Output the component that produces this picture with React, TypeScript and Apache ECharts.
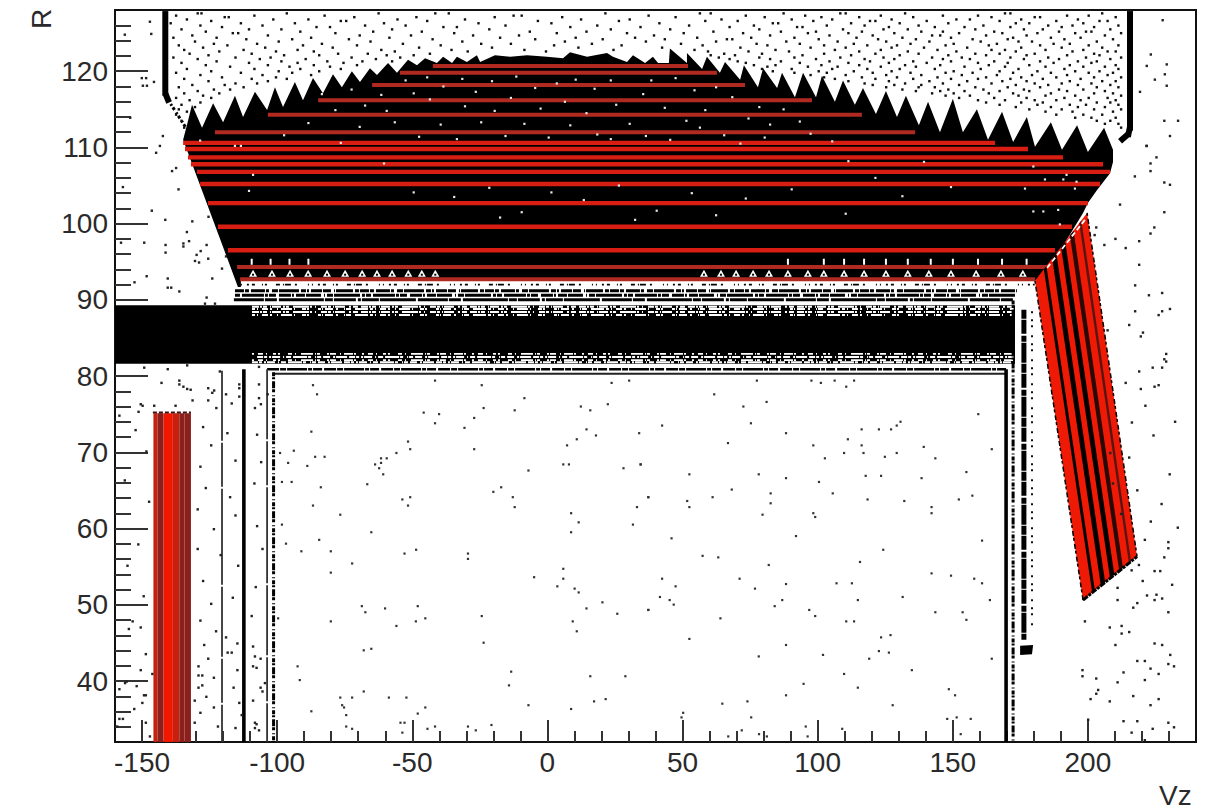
import React, { useEffect, useRef } from "react";
import * as echarts from "echarts";

type P = number[];

const xMajorTicks = [-150, -100, -50, 0, 50, 100, 150, 200];
const xMinorTicks = [-140, -130, -120, -110, -90, -80, -70, -60, -40, -30, -20, -10, 10, 20, 30, 40, 60, 70, 80, 90, 110, 120, 130, 140, 160, 170, 180, 190, 210, 220, 230];
const yMajorTicks = [40, 50, 60, 70, 80, 90, 100, 110, 120];
const yMinorTicks = [34, 36, 38, 42, 44, 46, 48, 52, 54, 56, 58, 62, 64, 66, 68, 72, 74, 76, 78, 82, 84, 86, 88, 92, 94, 96, 98, 102, 104, 106, 108, 112, 114, 116, 118, 122, 124, 126];

// This maps them on to the exact frame.
const cal = (p: P): P => [-160 + ((p[0] + 159.63) * 400) / 400.37, 32 + ((p[1] - 32.07) * 96) / 96.07];

const domeOutline: P[] = [
  [-114.1, 91.8], [-134.4, 111.1], [-133, 113], [-131.1, 115.7], [-127.4, 112.7], [-123.3, 115.9], [-119.6, 113.4], [-115.2, 116.9], [-112.2, 114.1], [-107.8, 117.4], [-103.3, 115], [-100.4, 118], [-97.4, 115.4], [-93, 118.7], [-90, 116.3], [-86.3, 119.2], [-82.6, 117.2], [-78.9, 119.7], [-75.6, 118], [-71.9, 120.1], [-68.9, 118.7], [-65.2, 120.5], [-62.6, 119.6], [-58.5, 121.2], [-55.2, 119.9], [-51.1, 121.6], [-47.8, 120.9], [-44.8, 121.8], [-40.4, 121.2], [-38.1, 122], [-34.8, 121.2], [-33, 122], [-29.3, 121.3], [-25.6, 122.2], [-24.4, 121.3], [-18.9, 122.2], [-13.3, 122], [-7, 122.2], [0.4, 122], [6.3, 121.8], [8.9, 122.6], [15.2, 122], [22.6, 122.5], [24.8, 122], [30, 121.3], [32.2, 122.2], [36.7, 121.2], [39.6, 122], [41.5, 121.2], [45.5, 121.2], [45.9, 123.1], [52.2, 121.2], [52.2, 122.5], [57.8, 120.4], [59.6, 122], [64.4, 119.9], [66.3, 121.3], [71.9, 119], [73.3, 120.9], [78.5, 118], [80.4, 120.5], [85.6, 117.9], [87.4, 119.9], [92.2, 116.7], [95.2, 119.9], [100, 116.7], [102.2, 119.5], [107, 116.1], [110, 118.9], [114.4, 115.7], [117.4, 117.9], [122.2, 114.5], [125.9, 117.5], [130, 114.1], [133.3, 116.9], [138.1, 113], [141.5, 116.1], [145.9, 112.1], [150.7, 116.5], [154.4, 112.1], [159.6, 115.1], [163.7, 111.1], [168.9, 114.8], [173, 110.8], [178.1, 114.1], [181.1, 110.2], [187, 113.4], [191.1, 109.8], [196.7, 113], [200.7, 109.5], [206.7, 112.7], [210, 109.8], [210, 108.2], [208.9, 106.7], [204.1, 104.5], [200.7, 102.8], [198.9, 101.5], [186.7, 94.4], [184.8, 93.4], [181.9, 92.7], [180.4, 92.6],
];
const bandOutline: P[] = [[-160, 89.4], [173.7, 89.4], [173.7, 81.7], [-160, 81.7]];
const blobOutline: P[] = [[175.6, 44.7], [180.4, 44.8], [180, 43.6], [175.6, 43.5]];
const quadOutline: P[] = [[181.1, 92.6], [200.4, 101.5], [218.9, 56.4], [198.9, 50.7]];

// [y, xStart, xEnd]
const mutedRedRows: P[] = [[120.8, -41.9, 52.6], [119.9, -54.1, 63.3], [118.3, -64.4, 73.7], [116.3, -84.4, 98.5], [114.4, -103, 117], [112.1, -122.6, 136.7], [94.4, -114.4, 185.6], [92.8, -113.3, 181.1]];
const brightRedRows: P[] = [[110.7, -134.4, 166.3], [109.9, -133.7, 178.5], [108.8, -132.6, 191.5], [107.9, -131.5, 206.3], [106.9, -129.3, 208.9], [105.3, -128.1, 205.2], [102.8, -125.2, 200.7], [99.7, -121.5, 194.8], [96.6, -117.8, 188.5]];

// red vertical block: [xStart, xEnd]
const blockTop = 75.2;
const blockRed: P[] = [[-145.4, -143.9], [-138.2, -135.8]];
const blockBright: P[] = [[-141.7, -138.2]];
const blockDark: P[] = [[-143.9, -141.7], [-135.8, -133.9], [-133.9, -131.5]];

// fractions across the slanted block
const quadBlackStrips: P[] = [[0.17, 0.22], [0.33, 0.41], [0.5, 0.58]];
const quadDarkStrips: P[] = [[0.67, 0.74]];
const quadMaroonStrips: P[] = [[0.85, 0.89]];

const whiteGapRow: P[] = [[92.1, -113, 181]];
const blackNoiseA: P[] = [[91.3, -115.2, 174.4]];
const blackNoiseB: P[] = [[90.7, -115.2, 174.4]];
const blackNoiseC: P[] = [[90.1, -115.6, 173]];
const whiteTopRowsA: P[] = [[88.9, -108.9, 173.2], [88.1, -108.9, 173.2]];
const whiteTopRowsB: P[] = [[88.5, -108.9, 173.2], [89.2, -108.9, 173.7]];
const whiteBottomRowsA: P[] = [[83, -108.9, 173.2], [82.2, -108.9, 173.2]];
const whiteBottomRowsB: P[] = [[82.6, -107, 173.2], [81.9, -108.9, 173.2]];
const innerDashedRows: P[] = [[81, -103.3, 171]];
const innerSolidRows: P[] = [[80.4, -100.9, 170]];

// [x, yTop, yBottom]
const thickColumns: P[] = [[-111.9, 81, 32], [170.4, 81, 32]];
const thinColumns: P[] = [[-120, 80.8, 32], [-103.3, 81, 32]];
const dottedColumns: P[] = [[-100.9, 80.6, 32], [173, 90, 32]];
const heavyDotColumns: P[] = [[177, 88.8, 45.5]];
const sparseColumns: P[] = [[180, 88.6, 47.4]];
const topLeftColumn: P[] = [[-141, 128, 116.9]];
const topRightColumn: P[] = [[216.3, 128, 112.3]];
const columnRoughness: P[] = [[-141, 128, 117.4], [216.3, 128, 112.6]];
const slantSegments: P[] = [[-141, 116.9, -133, 112.5]];
const cornerSegments: P[] = [[-141, 117.2, -139.6, 116], [216.3, 112.8, 215.5, 111.5], [215.8, 111.9, 212.6, 110.9]];
const quadSeamSegments: P[] = [[185.6, 94.3, 199.6, 100.6]];
const quadEdgeSegments: P[] = [[198.9, 50.7, 218.9, 56.4]];
const quadSideSegments: P[] = [[200.4, 101.5, 218.9, 56.4], [181.1, 92.6, 198.9, 50.7]];
const blockTopRows: P[] = [[75.3, -145.6, -131.5]];

const glyphRowLower = [-108.5, -101.5, -94.8, -88.1, -81.1, -74.4, -68.1, -62.6, -57, -51, -46, -41, 58.5, 64.8, 70.4, 76.7, 82.6, 89.6, 97, 102.9, 110.4, 117.8, 125.9, 134, 141.8, 150, 159.3, 168.5, 176.6];
const glyphRowUpper = [-109, -102, -95, -88, 89.6, 102.9, 110.4, 117.8, 125.9, 134, 142.5, 150.7, 160, 168.9, 178];

const sparseCentreLeft: P[] = [[-41.1, 79.5], [-23.8, 78.9], [-86.3, 78.9], [-84.8, 77.7], [-8, 77.2], [24.3, 79.2], [30.8, 79.5], [-23.1, 75.9], [-45.3, 75.3], [-39.6, 75.1], [-11.6, 75.6], [12.9, 76.1], [16.4, 75.6], [22.9, 76.4], [-26.6, 74.6], [-41.1, 73.9], [-30.2, 73.3], [-86.9, 72.8], [15, 73.1], [18.5, 72.3], [11.4, 71.8], [34.5, 72.6], [-51.1, 71.5], [7.8, 71], [-50.3, 70.5], [-26.6, 70.5], [-98.5, 70], [-93.4, 70.3], [-55.4, 70], [-85.5, 69.5], [-82, 69.5], [-61.1, 69.3], [-59, 69.3], [-95.5, 68.7], [-61.1, 68.7], [-63.3, 68.5], [-88.4, 68.3], [6.4, 68.5], [8.5, 68.5], [35.1, 68.5], [-61.8, 68], [28.7, 68], [-6.5, 67.7], [-60.3, 67.2], [-97.8, 66.2], [-94.2, 66.2], [-66.2, 65.9], [-83.4, 65.5], [-16.6, 65.5], [-19.5, 64.9], [-12.3, 64.2], [-50.3, 64.2], [-53.2, 63.9], [37.9, 64.2], [-86.3, 63.1], [-51.1, 63.1], [-11.6, 62.9], [33.7, 62.9], [9.3, 62.1], [-76.2, 61.9], [12.1, 60.9], [-97.8, 60.6], [32.2, 60.6], [-64.7, 59.6], [9.3, 59.6], [-84, 58.6], [-96.3, 58.1], [-48.1, 57.3], [-90.6, 57.1], [-79.7, 57.1], [-52.4, 56.8], [-28.9, 56.8], [-28.9, 56.1], [-71.8, 55.5], [6.4, 54.8], [-79.7, 54.3], [-4.4, 53.7], [6.4, 53.5], [4.2, 52.5], [10.6, 52.2], [12.1, 51.7], [20.9, 50.4], [-68.2, 49.9], [-47.5, 49.9], [-59.6, 49.6], [15, 49.6], [-66.9, 49.1], [26.4, 48.9], [37.9, 49.4], [-23.8, 48.6], [-44.7, 48.3], [-99.2, 48.3], [-48.2, 47.9], [-79.7, 47.9], [9.9, 47.9], [-55.4, 47.3], [11.4, 46.6], [-23.1, 45.1], [-64.7, 44.3], [-67.5, 44.1], [-92, 42], [-12.9, 41.3], [16.4, 40.7], [29.4, 40.7], [-91.2, 40.2], [-13.7, 39.5], [-67.5, 38.7], [-76.2, 37.9], [-71.8, 37.9], [-58.2, 37.9], [-51.7, 37.9], [22.1, 37.7], [17.8, 37.4], [-75.5, 36.9], [-74.8, 36.6], [-6.5, 36.9], [-44.7, 36.6], [-86.9, 36.1], [9.3, 36.4], [-47.5, 35.8], [-74, 35.6], [-53.9, 34.6], [-52.4, 34.6], [-20.2, 34.3], [-74, 34.1], [-41.1, 34.1], [-28.9, 34.1], [-71.8, 33.8], [-43.9, 33.8], [-26, 33.6], [-53.2, 33.3]];

const sparseCentreRight: P[] = [[78.1, 79.5], [98.3, 79.5], [101.8, 79.2], [106.9, 79.5], [114.1, 79.5], [111.2, 78.7], [62.3, 77.7], [81.7, 76.7], [73.1, 76.1], [160.1, 75.1], [43, 73.6], [75.9, 73.9], [131.3, 74.1], [129.9, 73.6], [116.9, 73.1], [123.3, 73.1], [127.8, 73.1], [88.9, 72.6], [111.8, 71.8], [67.4, 71.3], [99, 71], [116.9, 71], [139.9, 70.8], [165.1, 70.5], [110.4, 70], [117.6, 70], [129.9, 70], [125.5, 69.5], [103.3, 69.3], [144.2, 69.3], [35, 68.5], [155.7, 67.5], [53.1, 67.2], [78.8, 67.2], [118.4, 67], [124.1, 67], [88.9, 66.7], [139.1, 66.7], [101.1, 66.2], [68.8, 65.2], [83.2, 64.7], [106.2, 64.7], [157.9, 64.4], [37.9, 64.2], [61.7, 64.2], [119.1, 63.9], [152.9, 63.9], [52.3, 63.7], [132.7, 63.7], [83.2, 63.4], [53.1, 62.9], [142.8, 62.9], [142.8, 62.1], [99, 62.1], [80.2, 61.9], [99.7, 61.6], [92.6, 59.1], [46.5, 58.8], [161.5, 58.5], [124.9, 57.3], [58, 56.5], [63.8, 56.3], [116.3, 55.7], [82.5, 55.3], [142.8, 54.2], [150, 53.9], [43, 53.5], [71.7, 53.5], [158.6, 53.5], [107.6, 52.9], [113.3, 52.9], [88.9, 52.8], [161.5, 52.9], [48, 52.5], [77.4, 52.2], [42.2, 51.1], [132.1, 51.1], [45.8, 50.7], [87.5, 50.7], [115.5, 50.7], [164.4, 50.7], [47.3, 50.1], [84.7, 49.9], [37.9, 49.4], [97.5, 49.4], [144.2, 49.1], [154.3, 49.1], [99.7, 48.6], [64.6, 48.3], [155.7, 48.1], [111.2, 47.9], [114.1, 47.9], [127.6, 46.1], [124.1, 45.8], [53.1, 45.6], [88.9, 44.8], [123.3, 44], [127, 43.8], [102.6, 43.5], [78.8, 43.3], [119.7, 43], [165.1, 43], [135.5, 41.5], [110.4, 41], [95.4, 39.7], [115.5, 39.2], [149.2, 39], [88.9, 38.2], [151.5, 38.2], [74.6, 37.4], [65.3, 37.1], [128.4, 36.9], [50.8, 35.9], [50.2, 35.3], [76, 35.3], [152.1, 35.3], [148.6, 35.1], [157.3, 35.1], [96.2, 34.1], [109.7, 33.8], [72.5, 33.6], [78.9, 33.1], [67.5, 32.8], [81.8, 32.8], [96.9, 32.8], [153.6, 33.1]];

const sparseRight: P[] = [[221.8, 58.6], [230.5, 58.3], [230.5, 57.5], [229, 56.3], [219.6, 55.3], [216.9, 54.6], [225.4, 54.5], [227.5, 54.5], [221, 53.2], [231.9, 52.7], [211.7, 52.3], [211.7, 50.7], [222.6, 51.3], [226.1, 51.4], [228.2, 50.9], [225.4, 50.7], [219, 50.3], [217.5, 49.7], [230.5, 49.1], [199.6, 47.9], [208.8, 47.1], [213.2, 47.3], [213.2, 46.3], [216, 46.5], [210.9, 44.8], [225.4, 45], [228.2, 44.8], [231.2, 43.5], [219, 42.7], [221.8, 42.7], [223.9, 41.7], [230.5, 42.3], [232.6, 42], [226.9, 41], [198.7, 41.5], [198.7, 40.7], [203.8, 40.4], [213.9, 41.2], [211.7, 39.9], [221.8, 40.2], [217.5, 38.1], [204.5, 38.9], [203.8, 38.4], [201.7, 37.7], [208.8, 37.4], [226.9, 37.7], [223.9, 36.9], [213.9, 34.8], [219, 34.8], [200.8, 35], [230.5, 34.6], [232.6, 34], [224.7, 33.8], [216.9, 33.3], [221.8, 32.3], [231.1, 111.6], [222.4, 110.3], [226.1, 108.8], [223.9, 108], [223.9, 107], [218.1, 106.3], [229, 105.5], [231.1, 105.2], [212.6, 102.6], [229, 101.6], [225.3, 99.6], [223.9, 98.8], [203.8, 99.6], [203.2, 98.6], [210.9, 98.1], [219.7, 97.8], [206.8, 97.3], [214.7, 96.9], [219.7, 94.7], [218.2, 92], [223.3, 90.7], [228.2, 91], [218.2, 88.6], [228.2, 88.6], [226.9, 88.1], [231.1, 88.9], [216, 86.8], [221.1, 85.8], [220.3, 85.3], [208, 86.1], [229.7, 83], [229, 82.3], [229.7, 82], [224.7, 81.2], [228.2, 81.2], [219.7, 80.7], [214.7, 79.2], [226.9, 78.9], [225.4, 78.7], [220.3, 78.4], [222, 76.2], [233, 74.1], [225, 72.3], [216, 69.4], [231, 67.2], [219, 65.1], [228, 63.3], [213, 62], [234, 60.2], [224, 61], [210, 66], [209, 70], [217, 74], [228.4, 126.8], [224, 122.3], [229.9, 121], [222.5, 120.8], [229.2, 119.7], [225.5, 119], [229.9, 118.2], [220, 117.4], [229, 113.6], [234.1, 113.6], [222.5, 110.3]];

const sparseLeft: P[] = [[-157.4, 97.6], [-148.8, 97.6], [-140.9, 97.3], [-134.3, 97.5], [-134.3, 97.1], [-132.2, 97.8], [-125.7, 97.3], [-140.9, 96.3], [-127.9, 96.5], [-129.4, 96], [-130, 95.2], [-128.5, 95], [-125.1, 95.5], [-118.5, 95.8], [-120, 94.2], [-147.9, 93.2], [-140.1, 92.9], [-123.6, 92.9], [-152.4, 92.4], [-140.1, 91.7], [-138.8, 91.7], [-135.8, 91.2], [-125.7, 90.4], [-126.3, 89.6], [-122.6, 89.6], [-148.8, 81.2], [-140.1, 81], [-132.9, 81.5], [-120.8, 80.7], [-142.4, 79.2], [-135.8, 79.5], [-135.8, 79], [-134.3, 78.7], [-132.9, 78.4], [-131.6, 78.3], [-125.1, 78.5], [-122.9, 78.2], [-123.6, 77.9], [-130.9, 76.9], [-125.1, 76.9], [-122.1, 75.9], [-150.1, 76.4], [-149.4, 76.2], [-145.1, 76.2], [-137.2, 76.2], [-150.9, 75.4], [-158, 74.9], [-118.5, 77.7], [-116.4, 76.5], [-113.6, 79], [-113.6, 78.5], [-113.6, 77.4], [-106.3, 81.3], [-106.3, 79], [-106.3, 77.2], [-107.8, 75.9], [-105.6, 76.4], [-103.1, 77.7], [-153.1, 47.9], [-150.1, 47.1], [-154.5, 46.9], [-148.2, 43.6], [-150.1, 41.5], [-145.8, 41], [-155.3, 40], [-155.9, 39.8], [-158, 39], [-151.6, 39.4], [-148.9, 38.2], [-148.2, 38.2], [-149.5, 37.2], [-152.5, 36.4], [-158, 35.1], [-156.7, 35.1], [-148.2, 34.6], [-158.8, 34.1], [-146.7, 32.8], [-128, 48], [-122.2, 46.6], [-118.5, 45.8], [-126.6, 44.8], [-114.3, 45], [-117.9, 43.8], [-116.4, 43.8], [-125.1, 43], [-128.7, 42], [-128.7, 40.8], [-127.3, 40.8], [-123, 40.5], [-114.3, 41.5], [-128.7, 39.2], [-127.3, 39.5], [-115.7, 39.2], [-125.8, 38], [-130.1, 37.5], [-113.6, 37.2], [-123, 36.6], [-128, 35.9], [-130.1, 34.6], [-121.5, 34.1], [-115, 33.9], [-112.7, 35.6], [-108.5, 44.6], [-107.8, 43.3], [-105.7, 43], [-108.5, 42], [-107.2, 41.8], [-105.7, 39.2], [-105, 38.7], [-108.5, 37.5], [-107.8, 34.6], [-107.2, 34.4], [-107.8, 33.9], [-106.3, 33.6], [-104.1, 39.8], [-146.7, 126.6], [-146.2, 125], [-156, 124.9], [-149.7, 119.2], [-148.1, 119.2], [-145.2, 118.7], [-149.3, 118.2], [-147.8, 118.2], [-154, 114], [-141.9, 111.6], [-143, 110.3], [-144.4, 109.4], [-137, 107.4], [-138.5, 107], [-156.7, 104.9], [-136.1, 104.6], [-133, 99], [-131, 100.4], [-141, 100.6], [-146, 101.8], [-125, 101], [-152, 73], [-148, 70.2], [-156, 66.4], [-147, 63.6], [-151, 58], [-155, 55.2], [-149, 51.2], [-127, 73.4], [-124, 71], [-118, 72.6], [-128, 68.2], [-115, 69], [-126, 65.4], [-117, 64.2], [-129, 62.6], [-123, 60], [-107, 72.4], [-105.5, 68.8], [-108, 66], [-115, 61.8], [-129, 57.4], [-120.5, 56.6], [-107, 60.4], [-105, 57.4], [-114, 55.2], [-127, 53.2], [-116, 51], [-107.5, 52.4], [-124, 50.2], [-109, 48.6]];

// [y, x, x, x ...]: dots read, row by row, above the dome
const topUpperRows: P[] = [
  [127.7, -129, -127.6, -96, -62, -41, -36, 22, 57, 61, 88, 109, 111, 133, 170, 172, 206],
  [127.4, -137, -108, -82, -12, -9, 38, 74, 96, 124, 147, 160, 193, 201],
  [127.2, -119, -117.5, -71, -48, -19, 6, 48, 81, 102, 116, 136, 165, 181, 183, 211],
  [126.9, -133, -101, -88, -55, -30, 13, 31, 65, 91, 106, 128, 152, 157, 176, 197],
  [126.7, -124, -76, -74, -44, -3, 27, 59, 71, 99, 120, 122, 141, 168, 189, 205, 208],
  [126.4, -139, -113, -93, -60, -25, 2, 42, 84, 86, 113, 131, 149, 174, 179, 199],
  [126.1, -128, -105, -67, -52, -15, 19, 53, 77, 104, 118, 138, 162, 186, 195, 212],
  [125.9, -120, -85, -80, -38, -33, 9, 35, 68, 93, 95, 127, 144, 155, 172, 191, 203],
  [125.6, -135, -110, -98, -57, -21, 24, 46, 79, 110, 125, 134, 159, 177, 184, 209],
  [125.3, -126, -91, -64, -46, -6, 15, 62, 87, 100, 117, 139, 147, 166, 190, 200, 202],
  [125.1, -116, -114, -78, -34, 4, 30, 51, 73, 97, 112, 129, 153, 169, 182, 196, 213],
  [124.8, -131, -103, -69, -50, -27, -10, 40, 83, 105, 121, 143, 146, 163, 178, 207],
  [124.5, -138, -122, -87, -58, -17, 11, 33, 56, 76, 92, 115, 132, 150, 173, 187, 198],
  [124.3, -111, -94, -73, -42, -4, 21, 44, 67, 69, 101, 123, 137, 158, 171, 192, 210],
  [124, -130, -99, -65, -31, 7, 37, 63, 89, 108, 126, 142, 161, 175, 180, 204],
  [123.7, -123, -107, -83, -53, -24, -13, 17, 50, 78, 94, 114, 135, 151, 167, 188, 194],
  [123.5, -136, -118, -90, -70, -39, 3, 28, 58, 82, 103, 119, 130, 148, 164, 183, 201, 212],
  [123.2, -127, -104, -79, -47, -20, 12, 43, 72, 98, 111, 128, 140, 156, 176, 191, 206],
  [122.9, -134, -112, -92, -61, -35, -8, 25, 55, 85, 107, 124, 145, 165, 170, 185, 199],
  [122.7, -121, -100, -86, -56, -29, 0, 60, 75, 90, 116, 134, 152, 174, 195, 208, 211],
  [122.4, -132, -109, -77, -66, -43, 66, 80, 103, 122, 138, 159, 168, 181, 203],
  [122.2, -125, -97, -84, -59, -49, 61, 70, 95, 113, 131, 149, 163, 178, 193, 205],
];
const topLowerRows: P[] = [
  [121.9, -138, -115, -102, -72, -54, 64, 79, 92, 109, 125, 143, 154, 172, 186, 200, 213],
  [121.7, -129, -106, -89, -63, 68, 83, 100, 118, 129, 147, 157, 177, 190, 209],
  [121.4, -122, -98, -81, -68, -57, 71, 87, 105, 120, 136, 150, 166, 183, 197, 204],
  [121.2, -135, -110, -92, -75, 74, 94, 112, 127, 141, 160, 171, 188, 202],
  [120.9, -126, -103, -86, -70, 77, 85, 102, 116, 133, 146, 164, 179, 194, 211],
  [120.7, -117, -95, -80, 82, 97, 108, 124, 137, 155, 170, 185, 199, 207],
  [120.4, -133, -108, -91, -76, 80, 91, 106, 119, 131, 144, 161, 175, 192, 212],
  [120.1, -124, -99, -84, 84, 101, 114, 128, 151, 168, 182, 196, 205],
  [119.9, -137, -113, -94, 92, 104, 121, 135, 148, 158, 173, 187, 201, 210],
  [119.6, -128, -105, -87, 98, 111, 126, 139, 154, 167, 180, 193, 208],
  [119.3, -120, -100, 103, 117, 130, 145, 163, 176, 189, 203, 213],
  [119.1, -134, -109, -96, 107, 122, 136, 150, 160, 172, 184, 198],
  [118.8, -125, -103, 112, 127, 142, 156, 169, 178, 194, 206, 211],
  [118.5, -115, -107, 118, 133, 147, 165, 181, 191, 202],
  [118.3, -131, -119, 121, 129, 139, 153, 174, 186, 197, 209],
  [118, -136, -112, 126, 138, 144, 159, 171, 183, 204, 212],
  [117.7, -123, -117, 132, 149, 162, 177, 190, 199],
  [117.5, -129, 137, 146, 155, 168, 179, 193, 207],
  [117.2, -134, -121, 143, 151, 164, 173, 187, 203, 210],
  [116.9, -127, 148, 157, 175, 185, 196, 213],
  [116.6, -137, -124, 153, 166, 178, 192, 201, 208],
  [116.3, -132, 160, 170, 181, 189, 198, 211],
  [116, -128, 163, 176, 184, 204, 209],
  [115.7, -135, 168, 182, 194, 200, 212],
  [115.4, -130, 174, 187, 197, 207],
  [115.1, -136, 179, 191, 203, 213],
  [114.8, -133, 185, 195, 210],
  [114.4, -137, 189, 199, 206],
  [114, 196, 202, 211],
  [113.6, -135, 204, 209],
  [113.2, 207, 212],
  [112.7, -134, 213],
];

const domeSpecks: P[] = [[-115.2, 110.3], [-113, 110.3], [-108.5, 106.5], [-110, 104.4], [-128.1, 111], [180.5, 107.6], [192.8, 106.5], [196.5, 105.6], [195.9, 104.7], [184.8, 105.9], [191.6, 105.9], [177.4, 104.7], [180.5, 101.7], [184.2, 101.7], [189.7, 101.9], [190.3, 100], [-83, 117.1], [-78, 115], [-72, 117.7], [-67, 115.6], [-61, 117], [-59, 114.9], [-52, 118.9], [-49, 117.2], [-44, 119.3], [-43, 116.4], [-38, 118.1], [-31, 119.1], [-30, 115.5], [-26, 117.4], [-20, 118.8], [-19, 114.9], [-13, 116.6], [-11, 119.4], [-4, 117.9], [-2, 115.2], [4, 118.5], [7, 116.1], [11, 119], [15, 114.6], [18, 117.8], [24, 118.9], [26, 115.7], [31, 113.2], [36, 117.1], [39, 118.9], [44, 115.3], [48, 119.2], [52, 113.6], [55, 117.6], [59, 115], [63, 118], [69, 116.7], [75, 113.9], [79, 115.4], [83, 113.1], [88, 115.1], [94, 113.5], [-69, 112.8], [-56, 113.4], [-47, 111.5], [-39, 113.1], [-33, 111.2], [-24, 113.4], [-15, 111.6], [-8, 113.2], [1, 111.4], [9, 113], [19, 111.8], [24, 111.2], [37, 111.6], [46, 111.1], [57, 112.7], [66, 111.7], [72, 110.6], [81, 111.4], [98, 111.9], [106, 110.9], [-88, 113.3], [-97, 111.7], [-76, 110.7], [-60, 108], [-49, 104.2], [-34, 103.6], [-21, 104.8], [-9, 101.6], [2, 104.2], [14, 103.2], [27, 105.1], [41, 101.8], [54, 104.1], [74, 103.4], [91, 104.6], [111, 101.4], [132, 103.7], [150, 104.9], [122, 106.1], [140, 108.2], [112, 108.3], [63, 101.2], [33, 100.6], [-17, 100.9]];

const flatten = (rows: P[]): P[] => rows.flatMap((r) => r.slice(1).map((x) => [x, r[0]]));
const asSegs = (rows: P[]): P[] => rows.map((r) => [r[1], r[0], r[2], r[0]]);
const asCols = (cols: P[]): P[] => cols.map((c) => [c[0], c[1], c[0], c[2]]);

function polygon(name: string, pts: P[], fill: string) {
  return {
    type: "custom", name, silent: true, coordinateSystem: "cartesian2d", clip: true, data: [pts[0]],
    renderItem: (_p: any, api: any) => ({ type: "polygon", shape: { points: pts.map((q) => api.coord(cal(q))) }, style: { fill } }),
  };
}
function segments(name: string, segs: P[], stroke: string, lineWidth: number, lineDash?: number[], lineCap = "butt") {
  return {
    type: "custom", name, silent: true, coordinateSystem: "cartesian2d", clip: true, data: segs.map((s) => [s[0], s[1]]),
    renderItem: (p: any, api: any) => {
      const s = segs[p.dataIndex];
      const a = api.coord(cal([s[0], s[1]]));
      const b = api.coord(cal([s[2], s[3]]));
      return { type: "line", shape: { x1: a[0], y1: a[1], x2: b[0], y2: b[1] }, style: { stroke, lineWidth, lineDash, lineCap, fill: "none" } };
    },
  };
}
function dots(name: string, pts: P[], color: string, size: any = 2.4, symbol = "rect") {
  return { type: "scatter", name, silent: true, symbol, symbolSize: size, itemStyle: { color, opacity: 1 }, data: pts.map(cal), clip: true };
}
const blockRects = (list: P[]) => list.map((b) => [[b[0], blockTop], [b[1], blockTop], [b[1], 30], [b[0], 30]]);
const mix = (a: P, b: P, t: number): P => [a[0] + (b[0] - a[0]) * t, a[1] + (b[1] - a[1]) * t];
const quadStrip = (s: P): P[] => {
  const [tl, tr, br, bl] = quadOutline;
  return [mix(tl, tr, s[0]), mix(tl, tr, s[1]), mix(bl, br, s[1]), mix(bl, br, s[0])];
};

const dashA = [3, 2, 1, 4, 6, 2, 2, 5, 1, 3, 11, 2, 1, 7, 4, 1, 2, 9, 3, 1, 1, 2, 8, 3, 2, 6, 1, 1, 5, 4, 13, 2];
const dashB = [7, 1, 2, 1, 4, 3, 1, 1, 9, 2, 2, 1, 3, 4, 16, 1, 2, 3, 1, 5, 6, 1, 3, 2, 1, 1, 10, 4, 2, 2, 5, 3];
const dashC = [2, 4, 5, 3, 1, 6, 3, 2, 2, 8, 4, 3, 1, 5, 12, 2, 1, 1, 3, 7, 2, 1, 6, 4, 1, 3, 9, 1, 2, 6];
const dashD = [6, 1, 3, 2, 2, 1, 8, 3, 1, 2, 5, 2, 14, 1, 3, 4, 1, 1, 4, 2, 7, 3, 2, 1, 11, 2];
const dashBlackA = [9, 1, 4, 2, 14, 1, 3, 3, 6, 1, 20, 2, 5, 1, 2, 2, 11, 1, 8, 3, 1, 1, 17, 2, 4, 1];
const dashBlackB = [5, 2, 22, 1, 3, 1, 7, 3, 12, 1, 2, 2, 9, 1, 15, 3, 1, 2, 6, 1, 26, 2, 3, 1];
const dashBlackC = [30, 1, 12, 2, 45, 1, 8, 1, 22, 2, 3, 1, 17, 1, 36, 2];

const axisCommon = { type: "value", splitLine: { show: false } };
const labelStyle = { color: "#2a2a2a", fontFamily: "Liberation Sans", fontSize: 28 };
const tickStyle = { color: "#333333", width: 2 };

export default function App() {
  const ref = useRef<HTMLDivElement>(null);
  useEffect(() => {
    document.body.style.margin = "0";
    const chart = echarts.init(ref.current!, null, { renderer: "svg" });
    chart.setOption({
      animation: false,
      backgroundColor: "#ffffff",
      grid: { left: 115, top: 10, width: 1081, height: 732, show: true, borderColor: "#111111", borderWidth: 2, backgroundColor: "transparent" },
      xAxis: [
        { ...axisCommon, min: -160, max: 240, position: "bottom", axisLine: { onZero: false, lineStyle: { color: "#111111", width: 2 } },
          axisTick: { inside: true, length: 22, customValues: xMajorTicks, lineStyle: tickStyle },
          axisLabel: { ...labelStyle, margin: 6, customValues: xMajorTicks, formatter: (v: number) => String(v) } },
        { ...axisCommon, min: -160, max: 240, position: "bottom", axisLine: { show: false, onZero: false },
          axisTick: { inside: true, length: 11, customValues: xMinorTicks, lineStyle: tickStyle },
          axisLabel: { show: false } },
      ],
      yAxis: [
        { ...axisCommon, min: 32, max: 128, position: "left", axisLine: { onZero: false, lineStyle: { color: "#111111", width: 2 } },
          axisTick: { inside: true, length: 33, customValues: yMajorTicks, lineStyle: tickStyle },
          axisLabel: { ...labelStyle, margin: 7, customValues: yMajorTicks, formatter: (v: number) => String(v) } },
        { ...axisCommon, min: 32, max: 128, position: "left", axisLine: { show: false, onZero: false },
          axisTick: { inside: true, length: 16, customValues: yMinorTicks, lineStyle: tickStyle },
          axisLabel: { show: false } },
      ],
      graphic: [
        { type: "text", left: 1159, top: 781, style: { text: "Vz", fill: "#2a2a2a", font: "28px 'Liberation Sans'" } },
        { type: "text", x: 27, y: 29, rotation: Math.PI / 2, style: { text: "R", fill: "#2a2a2a", font: "28px 'Liberation Sans'" } },
      ],
      series: [
        dots("upper dots", flatten(topUpperRows), "#111111"),
        dots("lower dots", flatten(topLowerRows), "#111111"),
        dots("left dots", sparseLeft, "#222222"),
        dots("right dots", sparseRight, "#222222"),
        dots("centre left dots", sparseCentreLeft, "#333333", 2.2),
        dots("centre right dots", sparseCentreRight, "#333333", 2.2),
        polygon("dome", domeOutline, "#000000"),
        segments("white gap", asSegs(whiteGapRow), "#ffffff", 7),
        segments("gap specks", asSegs(whiteGapRow), "#000000", 1.6, [1, 5, 2, 3, 3, 7, 1, 2, 2, 9, 4, 3, 1, 1, 6, 4, 2, 11, 1, 3]),
        segments("noise a", asSegs(blackNoiseA), "#000000", 3, dashBlackA),
        segments("noise b", asSegs(blackNoiseB), "#000000", 3, dashBlackB),
        segments("noise c", asSegs(blackNoiseC), "#000000", 3, dashBlackC),
        polygon("band", bandOutline, "#000000"),
        segments("band top a", asSegs(whiteTopRowsA), "#ffffff", 2, dashA),
        segments("band top b", asSegs(whiteTopRowsB), "#ffffff", 2, dashB),
        segments("band bottom a", asSegs(whiteBottomRowsA), "#ffffff", 1.8, dashC),
        segments("band bottom b", asSegs(whiteBottomRowsB), "#ffffff", 2, dashD),
        segments("inner dashed", asSegs(innerDashedRows), "#000000", 2.4, [12, 1, 6, 1, 20, 1, 4, 1, 9, 2]),
        segments("inner solid", asSegs(innerSolidRows), "#222222", 2.2),
        segments("thick columns", asCols(thickColumns), "#000000", 3.6),
        segments("thin columns", asCols(thinColumns), "#333333", 1.8, [70, 2, 44, 2, 96, 2]),
        segments("dotted columns", asCols(dottedColumns), "#000000", 3, [4, 1, 2, 2, 7, 1, 3, 3, 1, 2]),
        segments("heavy columns", asCols(heavyDotColumns), "#000000", 5, [9, 1, 14, 2, 6, 1, 20, 1]),
        segments("sparse columns", asCols(sparseColumns), "#111111", 2, [2, 6, 2, 4, 2, 8]),
        polygon("blob", blobOutline, "#000000"),
        segments("top left column", asCols(topLeftColumn), "#000000", 6),
        segments("top right column", asCols(topRightColumn), "#000000", 6),
        segments("column roughness", columnRoughness, "#000000", 9, [2, 5, 3, 9, 1, 6, 4, 3, 2, 11]),
        segments("corners", cornerSegments, "#000000", 6),
        segments("slants", slantSegments, "#000000", 3, [2, 2, 3, 3]),
        dots("glyphs lower", glyphRowLower.map((x) => [x, 93.6]), "#ffffff", [8, 7], "triangle"),
        dots("glyph holes", glyphRowLower.map((x) => [x, 93.4]), "#000000", [2, 2]),
        dots("glyphs upper", glyphRowUpper.map((x) => [x, 95.1]), "#ffffff", [2, 6]),
        dots("dome specks", domeSpecks, "#e8e8e8", 2.2),
        segments("muted red lines", asSegs(mutedRedRows), "#b02a22", 4),
        segments("bright red lines", asSegs(brightRedRows), "#d81e12", 4.4),
        ...blockRects(blockRed).map((r, i) => polygon("block red " + i, r, "#c8200f")),
        ...blockRects(blockBright).map((r, i) => polygon("block bright " + i, r, "#f01800")),
        ...blockRects(blockDark).map((r, i) => polygon("block dark " + i, r, "#8a1f1c")),
        segments("block top", asSegs(blockTopRows), "#401010", 2, [4, 2]),
        polygon("quad", quadOutline, "#ee1a05"),
        ...quadBlackStrips.map((s, i) => polygon("quad black " + i, quadStrip(s), "#050000")),
        ...quadDarkStrips.map((s, i) => polygon("quad dark " + i, quadStrip(s), "#2a0806")),
        ...quadMaroonStrips.map((s, i) => polygon("quad maroon " + i, quadStrip(s), "#5a1512")),
        segments("quad seam", quadSeamSegments, "#ffffff", 1.8, [5, 3]),
        segments("quad edge", quadEdgeSegments, "#000000", 3, [6, 1, 3, 1]),
        segments("quad sides", quadSideSegments, "#000000", 1.5, [3, 3, 5, 2]),
      ],
    });
    return () => chart.dispose();
  }, []);
  return <div ref={ref} style={{ width: 1217, height: 810 }} />;
}
